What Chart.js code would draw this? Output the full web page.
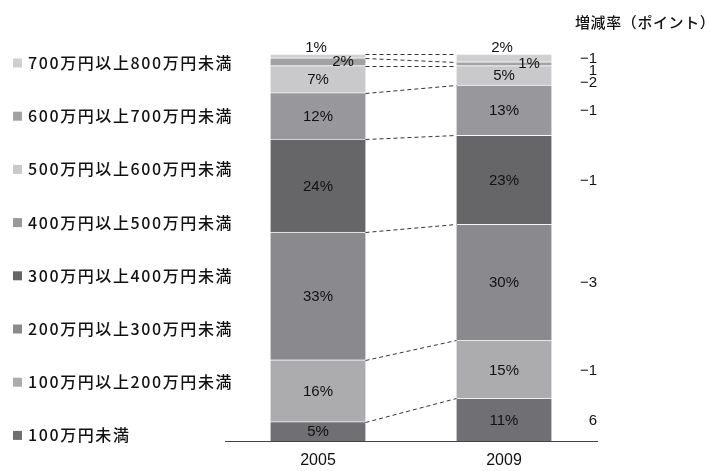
<!DOCTYPE html>
<html lang="ja">
<head>
<meta charset="utf-8">
<title>所得階層別の世帯割合</title>
<script src="https://cdn.jsdelivr.net/npm/chart.js@4/dist/chart.umd.min.js"></script>
<style>
  html, body { margin: 0; padding: 0; background: #fff; }
  canvas { display: block; }
</style>
</head>
<body>
<canvas id="chart" width="707" height="471"></canvas>
<script>
// survey years
const years = ['2005', '2009'];

// income brackets, bottom of the stack first
const brackets = [
  '100万円未満',
  '100万円以上200万円未満',
  '200万円以上300万円未満',
  '300万円以上400万円未満',
  '400万円以上500万円未満',
  '500万円以上600万円未満',
  '600万円以上700万円未満',
  '700万円以上800万円未満'
];

// share of households (%) per bracket
const share2005 = [5, 16, 33, 24, 12, 7, 2, 1];
const share2009 = [11, 15, 30, 23, 13, 5, 1, 2];

// change in points, same order as brackets
const changes = ['6', '−1', '−3', '−1', '−1', '−2', '1', '−1'];

const fills = ['#707074', '#acacaf', '#8a8a8e', '#666668', '#98989c', '#c9c9cb', '#a2a2a5', '#d0d0d2'];

const JP = '"Noto Sans CJK JP", sans-serif';
const NUM = '"Liberation Sans", Arial, sans-serif';
const INK = '#111';

// dashed lines joining the same boundary on both bars
const connectors = {
  id: 'connectors',
  afterDatasetsDraw(chart) {
    const c = chart.ctx;
    c.save();
    c.strokeStyle = '#333';
    c.lineWidth = 1;
    c.setLineDash([4, 3]);
    chart.data.datasets.forEach((ds, i) => {
      const meta = chart.getDatasetMeta(i);
      const a = meta.data[0], b = meta.data[1];
      c.beginPath();
      c.moveTo(a.x + a.width / 2, Math.round(a.y) + 0.5);
      c.lineTo(b.x - b.width / 2, Math.round(b.y) + 0.5);
      c.stroke();
    });
    c.restore();
  }
};

// percentage labels on the segments
const segmentLabels = {
  id: 'segmentLabels',
  afterDatasetsDraw(chart) {
    const c = chart.ctx;
    const last = chart.data.datasets.length - 1;
    c.save();
    c.fillStyle = INK;
    c.font = '15px ' + NUM;
    c.textAlign = 'center';
    chart.data.datasets.forEach((ds, i) => {
      chart.getDatasetMeta(i).data.forEach((el, j) => {
        const txt = ds.data[j] + '%';
        const mid = (el.y + el.base) / 2;
        if (i === last) {
          // top slice is too thin, put it above the bar
          c.textBaseline = 'bottom';
          c.fillText(txt, el.x - 2, el.y + 1);
        } else if (i === last - 1) {
          c.textBaseline = 'middle';
          c.fillText(txt, el.x + 25, mid);
        } else {
          c.textBaseline = 'middle';
          c.fillText(txt, el.x, mid + 1);
        }
      });
    });
    c.restore();
  }
};

// legend on the left, change column on the right
const sideText = {
  id: 'sideText',
  afterDraw(chart) {
    const c = chart.ctx;
    c.save();

    // legend, top bracket first
    c.font = '500 16px ' + JP;
    c.letterSpacing = '1.6px';
    c.textBaseline = 'middle';
    c.textAlign = 'left';
    for (let k = 0; k < brackets.length; k++) {
      const i = brackets.length - 1 - k;
      const y = 63 + k * 53.2;
      c.fillStyle = fills[i];
      c.fillRect(13, y - 4.5, 9, 9);
      c.fillStyle = INK;
      c.fillText(brackets[i], 28, y);
    }
    c.letterSpacing = '0.6px';

    // change column heading
    c.font = '500 15px ' + JP;
    c.fillText('増減率（ポイント）', 575, 22);
    c.letterSpacing = '0px';

    // change values next to the 2009 bar, pushed apart where slices are thin
    c.font = '15px ' + NUM;
    c.textAlign = 'right';
    let prev = -Infinity;
    for (let i = chart.data.datasets.length - 1; i >= 0; i--) {
      const el = chart.getDatasetMeta(i).data[1];
      let y = (el.y + el.base) / 2;
      if (y < prev + 12) y = prev + 12;
      prev = y;
      c.fillText(changes[i], 597, y + 1);
    }
    c.restore();
  }
};

const ctx = document.getElementById('chart').getContext('2d');

new Chart(ctx, {
  type: 'bar',
  data: {
    labels: years,
    datasets: brackets.map((name, i) => ({
      label: name,
      data: [share2005[i], share2009[i]],
      backgroundColor: fills[i],
      borderColor: 'rgba(255,255,255,0.45)',
      borderWidth: { top: 1, left: 0, right: 0, bottom: 0 },
      borderSkipped: false,
      barThickness: 95
    }))
  },
  options: {
    responsive: false,
    animation: false,
    devicePixelRatio: 1,
    layout: { padding: { left: 225, right: 110, top: 54, bottom: 0 } },
    plugins: {
      legend: { display: false },
      tooltip: { enabled: false }
    },
    scales: {
      x: {
        stacked: true,
        grid: { display: false, drawTicks: false },
        border: { display: true, color: '#444', width: 1 },
        ticks: { color: INK, font: { family: NUM, size: 16 }, padding: 10 },
        afterFit(scale) { scale.height = 30; }
      },
      y: {
        stacked: true,
        display: false,
        min: 0,
        max: 100
      }
    }
  },
  plugins: [connectors, segmentLabels, sideText]
});
</script>
</body>
</html>
